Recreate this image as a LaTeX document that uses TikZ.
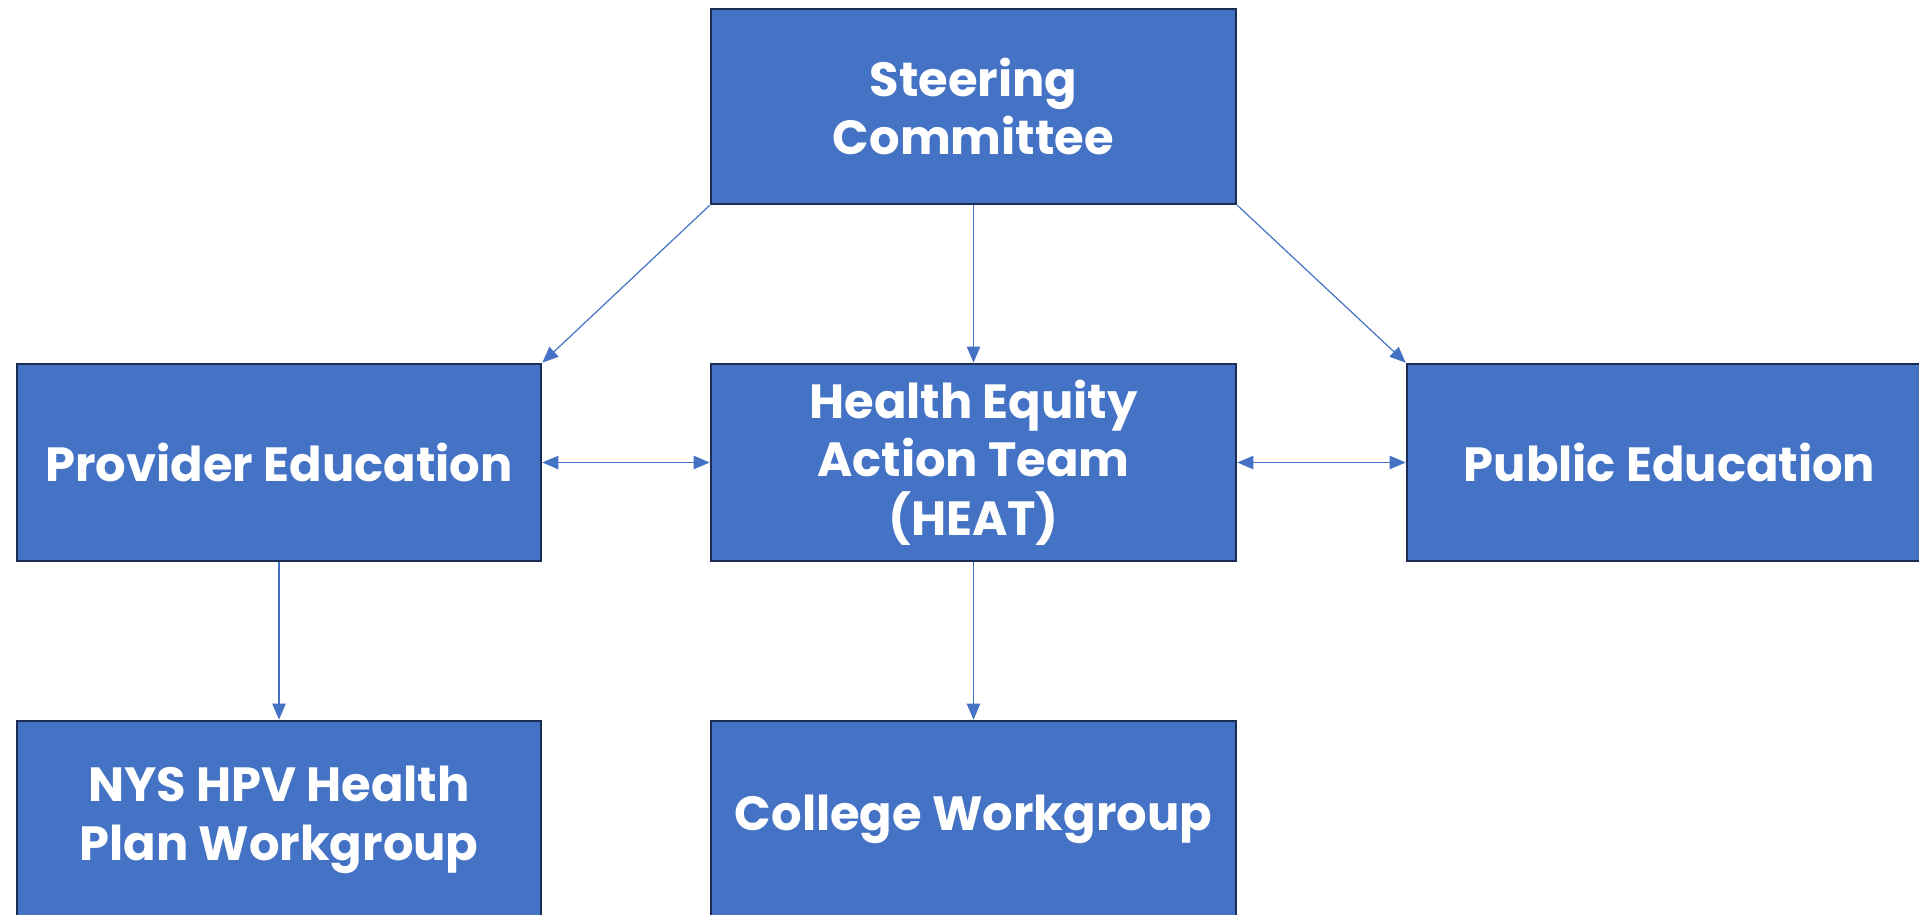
\documentclass[tikz,border=0pt]{standalone}
\usepackage{fontspec}
\setmainfont{Poppins}
\usetikzlibrary{arrows.meta}
\definecolor{boxfill}{HTML}{4472C4}
\definecolor{boxline}{HTML}{1B2C55}
\definecolor{arrowc}{HTML}{4472C4}
\begin{document}
\begin{tikzpicture}[x=0.75pt,y=-0.75pt,
  orgbox/.style={draw=boxline,line width=2pt,fill=boxfill,text=white,
    font=\fontsize{36}{44}\selectfont\bfseries,align=center,inner sep=0pt},
  link/.style={draw=arrowc,line width=0.9pt,-{Triangle[length=12pt,width=10pt]}},
  biglink/.style={draw=arrowc,line width=0.9pt,{Triangle[length=12pt,width=10pt]}-{Triangle[length=12pt,width=10pt]}}]
\useasboundingbox (0,0) rectangle (1919,914);
\begin{scope}
\clip (0,0) rectangle (1919,914);
\node[orgbox,minimum width=525*0.75pt,minimum height=195*0.75pt] (steer) at (973.5,106.5) {Steering\\Committee};
\node[orgbox,minimum width=524*0.75pt,minimum height=197*0.75pt] (prov) at (279,462.5) {Provider Education};
\node[orgbox,minimum width=525*0.75pt,minimum height=197*0.75pt] (heat) at (973.5,462.5) {Health Equity\\Action Team\\(HEAT)};
\node[orgbox,minimum width=525*0.75pt,minimum height=197*0.75pt] (pub) at (1669.5,462.5) {Public Education};
\node[orgbox,minimum width=524*0.75pt,minimum height=197*0.75pt] (nys) at (279,819.5) {NYS HPV Health\\Plan Workgroup};
\node[orgbox,minimum width=525*0.75pt,minimum height=197*0.75pt] (coll) at (973.5,819.5) {College Workgroup};
\end{scope}
\draw[link] (steer.south west) -- (prov.north east);
\draw[link] (steer.south) -- (heat.north);
\draw[link] (steer.south east) -- (pub.north west);
\draw[biglink] (prov.east) -- (heat.west);
\draw[biglink] (heat.east) -- (pub.west);
\draw[link] (prov.south) -- (nys.north);
\draw[link] (heat.south) -- (coll.north);
\end{tikzpicture}
\end{document}
